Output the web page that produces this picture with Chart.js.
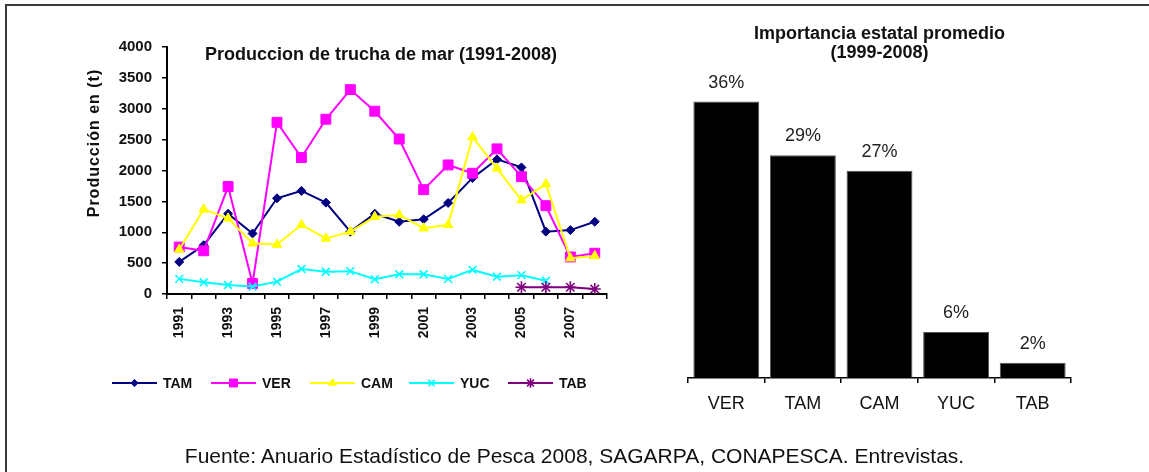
<!DOCTYPE html>
<html>
<head>
<meta charset="utf-8">
<script src="https://cdn.jsdelivr.net/npm/chart.js@4.4.0/dist/chart.umd.min.js"></script>
<style>
  html, body { margin: 0; padding: 0; background: #fff; }
  #wrap { position: relative; width: 1149px; height: 472px; overflow: hidden; font-family: "Liberation Sans", Arial, sans-serif; }
  #frame { position: absolute; left: 5px; top: 4px; right: -10px; bottom: -10px; border-top: 2px solid #3a3a3a; border-left: 2px solid #3a3a3a; }
  #lineBox { position: absolute; left: 0; top: 0; width: 640px; height: 472px; }
  #barBox { position: absolute; left: 640px; top: 0; width: 509px; height: 472px; }
  #fuente { position: absolute; left: 0; width: 1149px; top: 446px; line-height: 20px; text-align: center; font-size: 21px; color: #111; }
</style>
</head>
<body>
<div id="wrap">
  <div id="frame"></div>
  <div id="lineBox"><canvas id="produccion"></canvas></div>
  <div id="barBox"><canvas id="importancia"></canvas></div>
  <div id="fuente">Fuente: Anuario Estadístico de Pesca 2008, SAGARPA, CONAPESCA. Entrevistas.</div>
</div>
<script>
"use strict";

// produccion anual por estado (t)
var years = ['1991', '1992', '1993', '1994', '1995', '1996', '1997', '1998', '1999',
             '2000', '2001', '2002', '2003', '2004', '2005', '2006', '2007', '2008'];
var tam = [520, 790, 1300, 980, 1550, 1670, 1480, 1010, 1300, 1170, 1210, 1475, 1880, 2180, 2050, 1010, 1035, 1170];
var ver = [760, 700, 1740, 170, 2780, 2210, 2830, 3310, 2960, 2510, 1690, 2090, 1955, 2350, 1900, 1430, 600, 660];
var cam = [720, 1370, 1225, 820, 800, 1120, 900, 1010, 1250, 1280, 1065, 1120, 2540, 2035, 1520, 1780, 580, 615];
var yuc = [245, 190, 145, 120, 200, 405, 360, 370, 240, 320, 320, 245, 390, 280, 305, 215, null, null];
var tab = [null, null, null, null, null, null, null, null, null, null, null, null, null, null, 110, 110, 110, 80];

// importancia promedio 1999-2008 (%)
var estados = ['VER', 'TAM', 'CAM', 'YUC', 'TAB'];
var importancia = [36, 29, 27, 6, 2];

var FONT = '"Liberation Sans", Arial, sans-serif';
Chart.defaults.font.family = FONT;
Chart.defaults.color = '#111';

function serie(label, data, color, style, radius, fill, order) {
    return {
        label: label,
        data: data,
        borderColor: color,
        borderWidth: 2,
        tension: 0,
        pointStyle: style,
        pointRadius: radius,
        pointBackgroundColor: fill ? color : 'transparent',
        pointBorderColor: color,
        pointBorderWidth: fill ? 1 : 1.6,
        order: order
    };
}

// titulo, titulo del eje y y leyenda del grafico de lineas
var textosLineas = {
    id: 'textosLineas',
    afterDraw: function (chart) {
        var ctx = chart.ctx;
        ctx.save();
        ctx.fillStyle = '#111';
        ctx.textAlign = 'center';
        ctx.textBaseline = 'middle';
        ctx.font = 'bold 18px ' + FONT;
        ctx.fillText('Produccion de trucha de mar (1991-2008)', 381, 55);

        ctx.save();
        ctx.translate(95, 143);
        ctx.rotate(-Math.PI / 2);
        ctx.font = 'bold 16px ' + FONT;
        ctx.letterSpacing = '1px';
        ctx.fillText('Producción en (t)', 0, 0);
        ctx.restore();

        chart.data.datasets.forEach(function (ds, i) {
            var x0 = 112 + i * 99, y0 = 383;
            ctx.strokeStyle = ds.borderColor;
            ctx.lineWidth = 2;
            ctx.beginPath();
            ctx.moveTo(x0, y0);
            ctx.lineTo(x0 + 45, y0);
            ctx.stroke();
            ctx.fillStyle = ds.pointBackgroundColor;
            ctx.strokeStyle = ds.pointBorderColor;
            ctx.lineWidth = ds.pointBorderWidth;
            Chart.helpers.drawPoint(ctx, {
                pointStyle: ds.pointStyle,
                radius: ds.pointRadius * 0.8,
                rotation: 0,
                borderWidth: ds.pointBorderWidth
            }, x0 + 22.5, y0);
            ctx.fillStyle = '#111';
            ctx.textAlign = 'left';
            ctx.font = 'bold 14px ' + FONT;
            ctx.fillText(ds.label, x0 + 51, y0 + 1);
        });
        ctx.restore();
    }
};

// porcentaje encima de cada barra
var etiquetas = {
    id: 'etiquetas',
    afterDatasetsDraw: function (chart) {
        var ctx = chart.ctx;
        var valores = chart.data.datasets[0].data;
        ctx.save();
        ctx.fillStyle = '#222';
        ctx.textAlign = 'center';
        ctx.textBaseline = 'middle';
        ctx.font = '18px ' + FONT;
        chart.getDatasetMeta(0).data.forEach(function (bar, i) {
            ctx.fillText(valores[i] + '%', bar.x, bar.y - 19);
        });
        ctx.restore();
    }
};

new Chart(document.getElementById('produccion'), {
    type: 'line',
    data: {
        labels: years,
        datasets: [
            serie('TAM', tam, '#000080', 'rectRot', 4.5, true, 5),
            serie('VER', ver, '#ff00ff', 'rect', 7, true, 4),
            serie('CAM', cam, '#ffff00', 'triangle', 5.5, true, 3),
            serie('YUC', yuc, '#00ffff', 'crossRot', 5.5, false, 2),
            serie('TAB', tab, '#800080', 'star', 6, false, 1)
        ]
    },
    options: {
        responsive: true,
        maintainAspectRatio: false,
        animation: false,
        layout: { padding: { left: 117, right: 33, top: 47, bottom: 128 } },
        plugins: {
            legend: { display: false },
            tooltip: { enabled: false }
        },
        scales: {
            x: {
                offset: true,
                grid: { offset: true, drawOnChartArea: false, tickLength: 5, color: '#000', lineWidth: 1.5 },
                border: { color: '#000', width: 2 },
                ticks: {
                    autoSkip: false,
                    minRotation: 90,
                    maxRotation: 90,
                    padding: 8,
                    color: '#111',
                    font: { size: 14, weight: 'bold' },
                    callback: function (v, i) {
                        return i % 2 === 0 ? this.getLabelForValue(v) : '';
                    }
                },
                afterFit: function (s) { s.height = 50; }
            },
            y: {
                min: 0,
                max: 4000,
                grid: { drawOnChartArea: false, tickLength: 5, color: '#000', lineWidth: 1.5 },
                border: { color: '#000', width: 2 },
                ticks: {
                    stepSize: 500,
                    padding: 10,
                    color: '#111',
                    font: { size: 15, weight: 'bold' },
                    callback: function (v) { return String(v); }
                },
                afterFit: function (s) { s.width = 50; }
            }
        }
    },
    plugins: [textosLineas]
});

new Chart(document.getElementById('importancia'), {
    type: 'bar',
    data: {
        labels: estados,
        datasets: [{
            data: importancia,
            backgroundColor: '#000',
            borderColor: '#555',
            borderWidth: 1,
            categoryPercentage: 1,
            barPercentage: 0.86
        }]
    },
    options: {
        responsive: true,
        maintainAspectRatio: false,
        animation: false,
        layout: { padding: { left: 48, right: 78, top: 24, bottom: 54 } },
        plugins: {
            legend: { display: false },
            tooltip: { enabled: false },
            title: {
                display: true,
                text: ['Importancia estatal promedio', '(1999-2008)'],
                color: '#111',
                font: { size: 18, weight: 'bold', lineHeight: 1.08 },
                padding: { top: 0, bottom: 8 }
            }
        },
        scales: {
            x: {
                grid: { offset: true, drawOnChartArea: false, tickLength: 5, color: '#000', lineWidth: 1.5 },
                border: { color: '#000', width: 1.5 },
                ticks: { color: '#111', padding: 10, font: { size: 18 } },
                afterFit: function (s) { s.height = 40; }
            },
            y: { display: false, min: 0, max: 40 }
        }
    },
    plugins: [etiquetas]
});
</script>
</body>
</html>
